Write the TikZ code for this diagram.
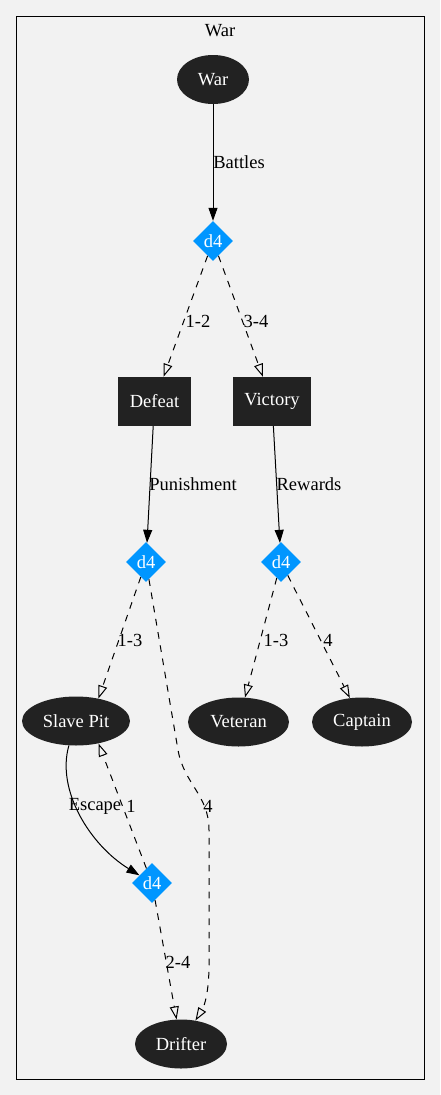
\documentclass[tikz,border=0pt]{standalone}
\usepackage{fontspec}
\setmainfont{Liberation Serif}
\usetikzlibrary{shapes.geometric,arrows.meta}
\definecolor{bgcol}{HTML}{F2F2F2}
\definecolor{boxcol}{HTML}{222222}
\definecolor{dicecol}{HTML}{0096FF}
\begin{document}
\begin{tikzpicture}[x=1pt,y=-1pt,font=\fontsize{18.5}{22}\selectfont,
    outcome/.style={ellipse,fill=boxcol,text=white,inner sep=0pt,minimum height=49pt},
    result/.style={rectangle,fill=boxcol,text=white,inner sep=0pt,minimum height=49pt},
    roll/.style={diamond,fill=dicecol,text=white,inner sep=0pt,minimum size=40pt},
    lbl/.style={inner sep=0pt},
    cause/.style={-{Triangle[length=13pt,width=9pt]},line width=1pt},
    chance/.style={-{Triangle[open,length=13pt,width=9pt]},line width=1pt,dash pattern=on 6.7pt off 6.7pt}]
    \fill[bgcol] (0,0) rectangle (440,1095);
    \useasboundingbox (0,0) rectangle (440,1095);
    \draw[line width=1pt] (16,16) rectangle (424,1079);
    \node[lbl] (cluster) at (220,31) {War};
    % nodes
    \node[outcome,minimum width=72pt] (war) at (213,79.5) {War};
    \node[roll] (rollwar) at (213,241) {d4};
    \node[result,minimum width=73pt] (defeat) at (154.5,401.5) {Defeat};
    \node[result,minimum width=78pt] (victory) at (272,401.5) {Victory};
    \node[roll] (rolldefeat) at (146,562) {d4};
    \node[roll] (rollvictory) at (281,562) {d4};
    \node[outcome,minimum width=108pt] (slavepit) at (76,721) {Slave Pit};
    \node[outcome,minimum width=101pt] (veteran) at (238.5,722) {Veteran};
    \node[outcome,minimum width=100pt] (captain) at (362,722) {Captain};
    \node[roll] (rollescape) at (152,883) {d4};
    \node[outcome,minimum width=92pt] (drifter) at (181,1044) {Drifter};
    % edges
    \draw[cause] (war) -- (rollwar);
    \draw[chance] (rollwar) -- (defeat);
    \draw[chance] (rollwar) -- (victory);
    \draw[cause] (defeat) -- (rolldefeat);
    \draw[cause] (victory) -- (rollvictory);
    \draw[chance] (rolldefeat) -- (slavepit.45);
    \draw[chance] (rolldefeat) -- (178,750) .. controls (184,784) and (209,795) .. (209,830)
        -- (209,965) .. controls (209,990) and (205,1005) .. (drifter);
    \draw[chance] (rollvictory) -- (veteran);
    \draw[chance] (rollvictory) -- (captain);
    \draw[cause] (slavepit) .. controls (56,790) and (90,845) .. (rollescape);
    \draw[chance] (rollescape) -- (slavepit.-45);
    \draw[chance] (rollescape) -- (drifter);
    % labels
    \node[lbl] (battles) at (239,162) {Battles};
    \node[lbl] (lblonetwo) at (198,321) {1-2};
    \node[lbl] (lblthreefour) at (256,321) {3-4};
    \node[lbl] (punishment) at (193,484) {Punishment};
    \node[lbl] (rewards) at (309,484) {Rewards};
    \node[lbl] (lblpit) at (130,640) {1-3};
    \node[lbl] (lblveteran) at (276,640) {1-3};
    \node[lbl] (lblcaptain) at (328,640) {4};
    \node[lbl] (escape) at (95,806) {Escape};
    \node[lbl] (lblback) at (131,806) {1};
    \node[lbl] (lbldrift) at (208,806) {4};
    \node[lbl] (lblfree) at (178,962) {2-4};
\end{tikzpicture}
\end{document}
